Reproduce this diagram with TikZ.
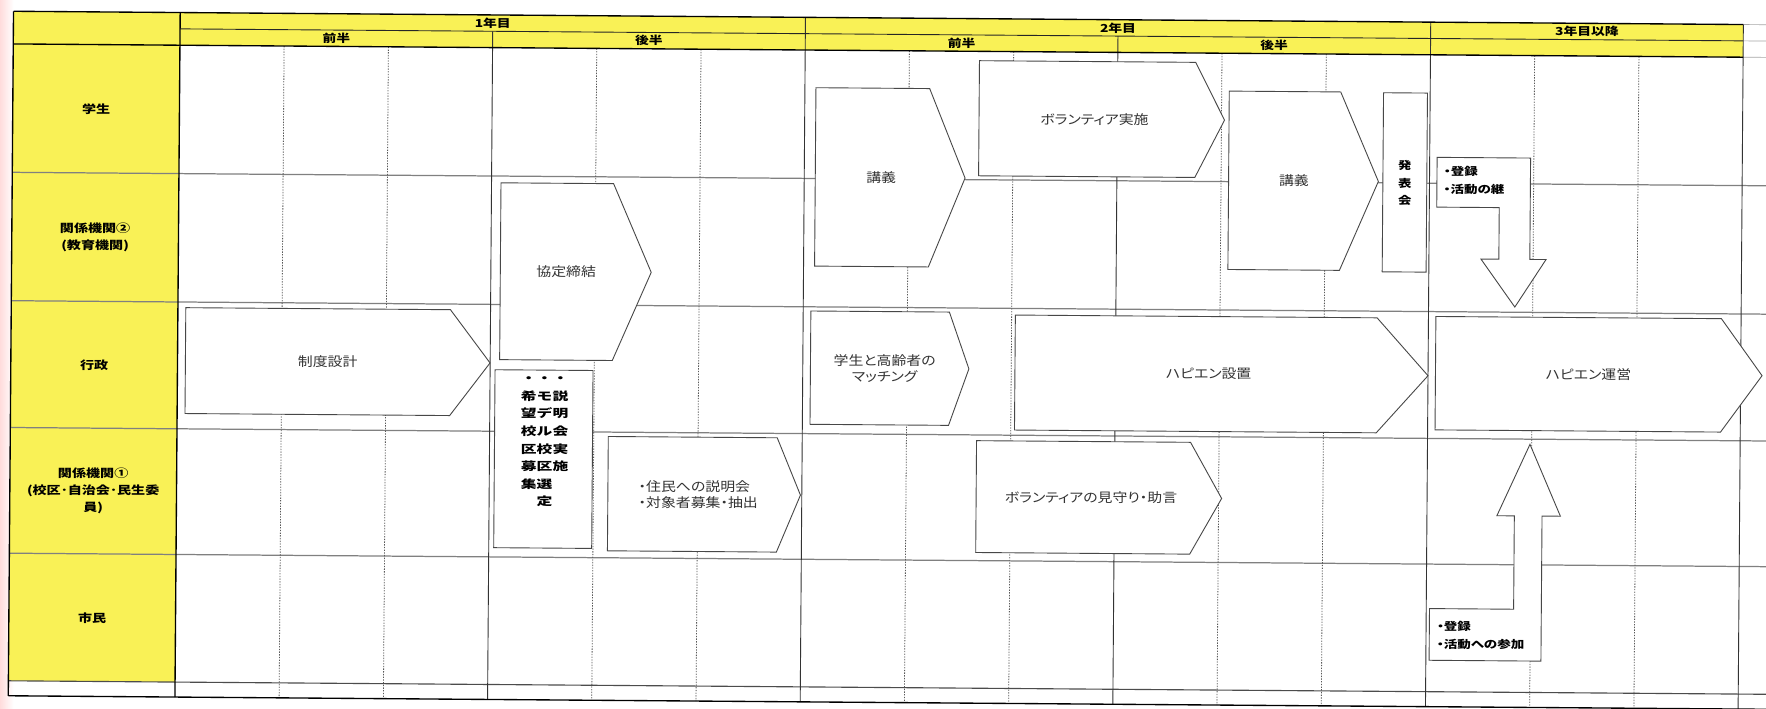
\documentclass[tikz,border=0pt]{standalone}
\usepackage{fontspec}
\newfontfamily\jpA[FakeStretch=1.15,RawFeature=+palt]{Noto Sans CJK JP}
\newfontfamily\jpB[FakeStretch=1.25,RawFeature=+palt]{Noto Sans CJK JP}
\newfontfamily\jpC[FakeStretch=1.4]{Noto Sans CJK JP}
\definecolor{hdr}{RGB}{249,241,86}
\tikzset{
 shp/.style={draw=black!72, line width=0.8pt, fill=white, line join=miter},
 shptext/.style={font=\jpA\fontsize{11.5}{14}\selectfont, text=black!80, align=center, inner sep=0pt},
 lbl/.style={font=\jpB\bfseries\fontsize{10}{15}\selectfont, align=center, inner sep=0pt},
 hdrtxt/.style={font=\jpB\bfseries\fontsize{9.8}{11}\selectfont, inner sep=0pt},
 smalltxt/.style={font=\jpB\bfseries\fontsize{9.6}{16}\selectfont, inner sep=0pt, anchor=west},
 vtxt/.style={font=\jpC\bfseries\fontsize{10}{15.6}\selectfont, align=center, inner sep=0pt},
 solidv/.style={draw=black!80, line width=0.8pt},
 dotv/.style={draw=black!65, line width=0.7pt, dash pattern=on 1.2pt off 1.2pt},
 rowl/.style={draw=black!50, line width=1.1pt},
 hline/.style={draw=black!85, line width=0.8pt},
 frame/.style={draw=black, line width=1.2pt}
}
\newcommand\pentabox[8]{%
 \draw[shp] (#2,#3) -- (#4,#3) -- (#5,{(#3+#6)/2}) -- (#4,#6) -- (#2,#6) -- cycle;
 \node[shptext,#8] (#1) at ({(#2+(#4+#5)/2)/2},{(#3+#6)/2}) {#7};
}
\begin{document}
\begin{tikzpicture}[x=1pt,y=-1pt]
\useasboundingbox (0,0) rectangle (1568,629);
\fill[white] (0,0) rectangle (1568,629);
\shade[left color=pink!55, right color=white] (0,0) rectangle (12,629);
\clip (0,0) rectangle (1568,629);
\begin{scope}[rotate around={-0.44:(12,10)}]
% fills
\fill[hdr] (12,10) rectangle (1548,39);
\fill[hdr] (12,39) rectangle (160,604.5);
% faint header lines beyond the table
\foreach \yy in {10,24.5,39} \draw[draw=black!35, line width=0.6pt] (1548,\yy) -- (1590,\yy);
% row lines
\foreach \yy in {153,267,379.6,491.2} \draw[rowl] (12,\yy) -- (1590,\yy);
\draw[draw=black!70, line width=1pt] (12,604.5) -- (1590,604.5);
% column lines
\foreach \xx in {252.5,345.1,530.1,622.7,807.7,900.3,1085.3,1177.9,1362.9,1455.5} \draw[dotv] (\xx,39) -- (\xx,617.8);
\foreach \xx in {715.2,1270.4,1548} \draw[solidv] (\xx,10) -- (\xx,617.8);
\foreach \xx in {437.6,992.8} \draw[solidv] (\xx,24.5) -- (\xx,617.8);
% frame and header lines
\draw[frame] (12,10) -- (1548,10);
\draw[hline] (160,24.5) -- (1548,24.5);
\draw[frame] (12,39) -- (1548,39);
\draw[frame] (12,10) -- (12,617.8);
\draw[frame] (160,10) -- (160,617.8);
\draw[frame] (12,617.8) -- (1590,617.8);
% header texts
\node[hdrtxt] (y1) at (437.6,17.3) {1年目};
\node[hdrtxt] (y1a) at (298.8,31.8) {前半};
\node[hdrtxt] (y1b) at (576.4,31.8) {後半};
\node[hdrtxt] (y2) at (992.8,17.3) {2年目};
\node[hdrtxt] (y2a) at (854,31.8) {前半};
\node[hdrtxt] (y2b) at (1131.6,31.8) {後半};
\node[hdrtxt] (y3) at (1409.2,17.3) {3年目以降};
% row labels
\node[lbl] (r1) at (86,96.5) {学生};
\node[lbl] (r2) at (86,210.5) {関係機関②\\(教育機関)};
\node[lbl] (r3) at (86,323.3) {行政};
\node[lbl] (r4) at (86,435.4) {関係機関①\\(校区･自治会･民生委\\員)};
\node[lbl] (r5) at (86,548) {市民};
% process shapes
\pentabox{seido}{167}{272}{402}{437.5}{366}{制度設計}{}
\pentabox{kyotei}{446}{159}{546}{580}{316}{協定締結}{}
\draw[shp] (442,325) rectangle (529,483);
\node[vtxt] (model) at (486.5,388.8) {・・・\\希モ説\\望デ明\\校ル会\\区校実\\募区施\\集選　\\　定　};
\pentabox{setsumei}{543}{383.5}{693}{714}{485}{・住民への説明会\\・対象者募集・抽出}{align=left}
\pentabox{kogi1}{725}{72.4}{826}{858}{230.8}{講義}{}
\pentabox{volj}{870}{47.3}{1062}{1088}{149.5}{ボランティア実施}{}
\pentabox{kogi2}{1092}{72.6}{1191}{1225}{231}{講義}{}
\draw[shp] (1229,73) rectangle (1268,232);
\node[lbl, font=\jpB\bfseries\fontsize{9.5}{15.5}\selectfont] (happyo) at (1248.5,153) {発\\表\\会};
\pentabox{match}{722}{270.7}{845}{862.7}{371.3}{学生と高齢者の\\マッチング}{}
\pentabox{setchi}{903.6}{272.9}{1224.8}{1270.4}{375}{ハピエン設置}{}
\pentabox{mimamori}{870}{384.7}{1060}{1088}{484}{ボランティアの見守り・助言}{}
\pentabox{unei}{1277}{271.3}{1530.5}{1567}{372}{ハピエン運営}{}
% down block arrow
\draw[shp] (1277,130) -- (1360,130) -- (1360,220) -- (1374.4,220) -- (1347,262.4) -- (1316.6,220) -- (1332.5,220) -- (1332.5,174.2) -- (1277,174.2) -- cycle;
\node[smalltxt] (d1) at (1283,142.4) {・登録};
\node[smalltxt] (d2) at (1283,158.3) {・活動の継};
% up block arrow
\draw[shp] (1273.3,576.6) -- (1273.3,530.7) -- (1348,530.7) -- (1348,447.8) -- (1332.5,447.8) -- (1361.4,384.2) -- (1388.9,447.8) -- (1372.6,447.8) -- (1372.6,576.6) -- cycle;
\node[smalltxt] (u1) at (1280,546.6) {・登録};
\node[smalltxt] (u2) at (1280,562.5) {・活動への参加};
\end{scope}
\end{tikzpicture}
\end{document}
